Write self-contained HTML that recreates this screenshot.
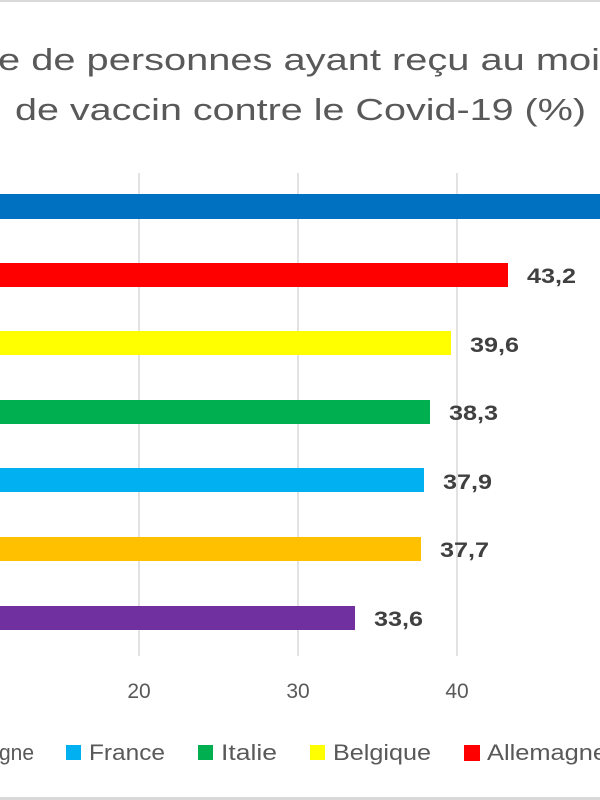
<!DOCTYPE html>
<html><head><meta charset="utf-8"><style>
html,body{margin:0;padding:0;background:#fff;}
svg{display:block;font-family:"Liberation Sans",sans-serif;}
</style></head><body>
<svg width="600" height="800" viewBox="0 0 600 800">
<rect x="0" y="0" width="600" height="800" fill="#fff"/>
<rect x="0" y="0" width="600" height="2" fill="#d9d9d9"/>
<rect x="0" y="797" width="600" height="3" fill="#d9d9d9"/>
<g fill="#595959" font-size="31">
<text x="-2" y="70" textLength="602" lengthAdjust="spacingAndGlyphs">e de personnes ayant reçu au moi</text>
<text x="15" y="120" textLength="571" lengthAdjust="spacingAndGlyphs">de vaccin contre le Covid-19 (%)</text>
</g>
<g stroke="#d9d9d9" stroke-width="1.5">
<line x1="139" y1="173" x2="139" y2="656"/>
<line x1="298" y1="173" x2="298" y2="656"/>
<line x1="457" y1="173" x2="457" y2="656"/>
</g>
<rect x="0" y="194" width="600" height="25" fill="#0070c0"/>
<rect x="0" y="263" width="508" height="24" fill="#ff0000"/>
<rect x="0" y="331" width="451" height="24" fill="#ffff00"/>
<rect x="0" y="400" width="430" height="24" fill="#00b050"/>
<rect x="0" y="468" width="424" height="24" fill="#00b0f0"/>
<rect x="0" y="537" width="421" height="24" fill="#ffc000"/>
<rect x="0" y="606" width="355" height="24" fill="#7030a0"/>
<g fill="#404040" font-size="21" font-weight="bold">
<text x="527" y="283" textLength="49" lengthAdjust="spacingAndGlyphs">43,2</text>
<text x="470" y="352" textLength="49" lengthAdjust="spacingAndGlyphs">39,6</text>
<text x="449" y="420" textLength="49" lengthAdjust="spacingAndGlyphs">38,3</text>
<text x="443" y="489" textLength="49" lengthAdjust="spacingAndGlyphs">37,9</text>
<text x="440" y="557" textLength="49" lengthAdjust="spacingAndGlyphs">37,7</text>
<text x="374" y="626" textLength="49" lengthAdjust="spacingAndGlyphs">33,6</text>
</g>
<g fill="#595959" font-size="21" text-anchor="middle">
<text x="139" y="698">20</text>
<text x="298" y="698">30</text>
<text x="457" y="698">40</text>
</g>
<g fill="#595959" font-size="22">
<text x="-1" y="760" textLength="35" lengthAdjust="spacingAndGlyphs">gne</text>
<rect x="66" y="745" width="15" height="15" fill="#00b0f0"/>
<text x="89" y="760" textLength="76" lengthAdjust="spacingAndGlyphs">France</text>
<rect x="198" y="745" width="15" height="15" fill="#00b050"/>
<text x="221" y="760" textLength="56" lengthAdjust="spacingAndGlyphs">Italie</text>
<rect x="310" y="745" width="15" height="15" fill="#ffff00"/>
<text x="333" y="760" textLength="98" lengthAdjust="spacingAndGlyphs">Belgique</text>
<rect x="464" y="745" width="16" height="16" fill="#ff0000"/>
<text x="487" y="760" textLength="120" lengthAdjust="spacingAndGlyphs">Allemagne</text>
</g>
</svg>
</body></html>
